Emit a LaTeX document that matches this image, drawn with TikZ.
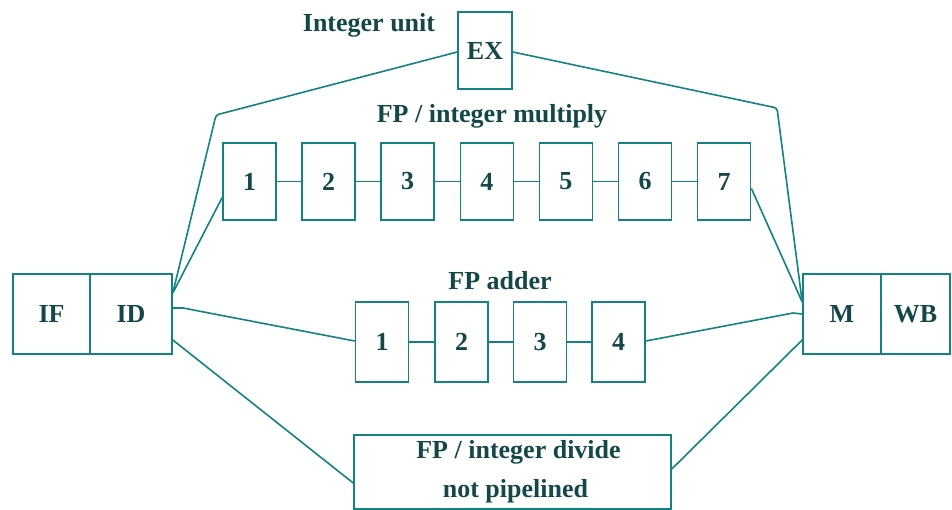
\documentclass[tikz,border=0pt]{standalone}
\usepackage{fontspec}
\setmainfont{Liberation Serif}
\usetikzlibrary{calc}
\definecolor{linecol}{RGB}{20,130,130}
\definecolor{txtcol}{RGB}{20,72,72}
\begin{document}
\begin{tikzpicture}[x=1pt,y=-1pt,
  stage/.style={draw=linecol,line width=1.6pt,inner sep=0pt,minimum height=80pt,
    font=\fontsize{26}{30}\selectfont\bfseries,text=txtcol},
  pipe/.style={stage,minimum width=53pt,minimum height=77pt},
  addb/.style={stage,minimum width=53pt,minimum height=80pt},
  lbl/.style={font=\fontsize{26}{30}\selectfont\bfseries,text=txtcol,inner sep=0pt},
  wire/.style={draw=linecol,line width=1.6pt}]
\useasboundingbox (0,0) rectangle (952,510);
% front and back stages
\node[stage,minimum width=77pt] (IF) at (51.5,314) {IF};
\node[stage,minimum width=82pt] (ID) at (131,314) {ID};
\node[stage,minimum width=78pt] (M) at (842,314) {M};
\node[stage,minimum width=69pt] (WB) at (915.5,314) {WB};
% integer unit
\node[stage,minimum width=54pt,minimum height=77pt] (EX) at (485,50.5) {EX};
\node[lbl] (intl) at (369,25) {Integer unit};
% multiply
\node[lbl] (mull) at (492,116) {FP / integer multiply};
\foreach \i/\x in {1/249.5,2/328.6,3/407.7,4/486.8,5/565.9,6/645,7/724.1}
  \node[pipe] (m\i) at (\x,181.5) {\i};
\foreach \a/\b in {1/2,2/3,3/4,4/5,5/6,6/7}
  \draw[wire] (m\a.east) -- (m\b.west);
% adder
\node[lbl] (addl) at (500,281) {FP adder};
\foreach \i/\x in {1/382,2/461.5,3/540,4/618.5}
  \node[addb] (a\i) at (\x,342) {\i};
\foreach \a/\b in {1/2,2/3,3/4}
  \draw[wire] (a\a.east) -- (a\b.west);
% divide
\node[stage,minimum width=317pt,minimum height=74pt,align=center,
  font=\fontsize{26}{39}\selectfont\bfseries] (div) at (512.5,472)
  {\hspace*{12pt}FP / integer divide\\\hspace*{6pt}not pipelined};
% connectors
\coordinate (exl) at (216,115);
\coordinate (exr) at (777,108);
\draw[wire,rounded corners=3pt] ([yshift=21pt]ID.east) -- (exl) -- ([yshift=-1.5pt]EX.west);
\draw[wire,rounded corners=3pt] ([yshift=-1.5pt]EX.east) -- (exr) -- ([yshift=12pt]M.west);
\draw[wire] ([yshift=21pt]ID.east) -- ([yshift=-16pt]m1.west);
\draw[wire] ([yshift=-7pt]m7.east) -- ([yshift=12pt]M.west);
\coordinate (ida) at (183,308);
\coordinate (mda) at (793,313);
\draw[wire] ([yshift=6pt]ID.east) -- (ida) -- ([yshift=1pt]a1.west);
\draw[wire] ([yshift=1pt]a4.east) -- (mda) -- (M.west);
\draw[wire] ([yshift=-26pt]ID.east) -- ([yshift=-11pt]div.west);
\draw[wire] ([yshift=3pt]div.east) -- ([yshift=-26pt]M.west);
\end{tikzpicture}
\end{document}
